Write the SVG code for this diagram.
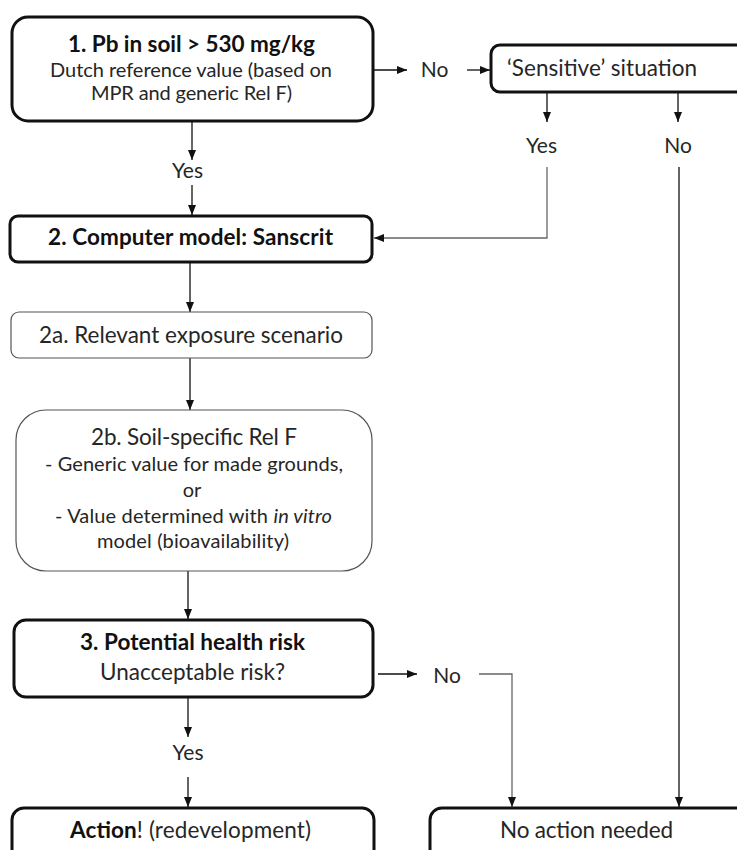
<svg xmlns="http://www.w3.org/2000/svg" width="737" height="850" viewBox="0 0 737 850">
<style>
text{font-family:Lato,"Open Sans","Liberation Sans",sans-serif;font-size:20px;fill:#262626;text-anchor:middle}
.b{font-weight:bold;fill:#111}
.L{font-size:22.5px}
.M{font-size:21px}
.thick{fill:#fff;stroke:#111;stroke-width:3}
.thin{fill:#fff;stroke:#555;stroke-width:1.2}
.c{fill:none;stroke:#111;stroke-width:1.3}
.g{stroke:#666}
</style>
<defs>
<marker id="ah" markerUnits="userSpaceOnUse" markerWidth="10" markerHeight="10" viewBox="0 0 10 10" refX="10" refY="5" orient="auto">
<path d="M0,1 L10,5 L0,9 Z" fill="#111"/>
</marker>
</defs>
<rect width="737" height="850" fill="#fff"/>
<g id="connectors">
<line class="c" x1="373" y1="70" x2="407" y2="70" marker-end="url(#ah)"/>
<line class="c" x1="467" y1="70" x2="490" y2="70" marker-end="url(#ah)"/>
<line class="c" x1="547" y1="93" x2="547" y2="122" marker-end="url(#ah)"/>
<line class="c" x1="678" y1="93" x2="678" y2="122" marker-end="url(#ah)"/>
<polyline class="c g" points="547,167 547,238 374,238" marker-end="url(#ah)"/>
<line class="c" x1="679" y1="167" x2="679" y2="807" marker-end="url(#ah)"/>
<line class="c" x1="192" y1="122" x2="192" y2="160" marker-end="url(#ah)"/>
<line class="c" x1="192" y1="185" x2="192" y2="215" marker-end="url(#ah)"/>
<line class="c" x1="190" y1="263" x2="190" y2="312" marker-end="url(#ah)"/>
<line class="c" x1="190" y1="358" x2="190" y2="410" marker-end="url(#ah)"/>
<line class="c" x1="188" y1="571" x2="188" y2="619" marker-end="url(#ah)"/>
<line class="c" x1="188" y1="698" x2="188" y2="737" marker-end="url(#ah)"/>
<line class="c" x1="188" y1="777" x2="188" y2="807" marker-end="url(#ah)"/>
<line class="c" x1="378" y1="674" x2="417" y2="674" marker-end="url(#ah)"/>
<polyline class="c g" points="479,674 512,674 512,807" marker-end="url(#ah)"/>
</g>
<g id="labels">
<text x="434.5" y="77" class="M">No</text>
<text x="541.5" y="153" class="M">Yes</text>
<text x="678" y="153" class="M">No</text>
<text x="187.5" y="178" class="M">Yes</text>
<text x="447" y="683" class="M">No</text>
<text x="188" y="760" class="M">Yes</text>
</g>
<g id="n1">
<rect class="thick" x="12" y="17" width="361" height="104" rx="16"/>
<text class="b L" x="191.5" y="52" textLength="247">1. Pb in soil &gt; 530 mg/kg</text>
<text x="191" y="77" textLength="282">Dutch reference value (based on</text>
<text x="191.5" y="100" textLength="201">MPR and generic Rel F)</text>
</g>
<g id="sensitive">
<rect class="thick" x="491" y="45" width="270" height="47" rx="9"/>
<text class="L" x="507" y="76" style="text-anchor:start" textLength="190">‘Sensitive’ situation</text>
</g>
<g id="n2">
<rect class="thick" x="10" y="216" width="362" height="46" rx="8"/>
<text class="b L" x="190.5" y="245" textLength="285">2. Computer model: Sanscrit</text>
</g>
<g id="n2a">
<rect class="thin" x="11" y="312" width="361" height="46" rx="8"/>
<text class="L" x="191" y="343" textLength="304">2a. Relevant exposure scenario</text>
</g>
<g id="n2b">
<rect class="thin" x="16" y="410" width="356" height="161" rx="30"/>
<text class="L" x="194" y="445" textLength="206">2b. Soil-specific Rel F</text>
<text x="194" y="471" textLength="298">- Generic value for made grounds,</text>
<text x="192" y="497">or</text>
<text x="193.5" y="523" textLength="277">- Value determined with <tspan font-style="italic">in vitro</tspan></text>
<text x="193" y="548" textLength="192">model (bioavailability)</text>
</g>
<g id="n3">
<rect class="thick" x="14" y="620" width="359" height="77" rx="12"/>
<text class="b L" x="192.5" y="650" textLength="225">3. Potential health risk</text>
<text class="L" x="192.5" y="680" textLength="185">Unacceptable risk?</text>
</g>
<g id="action">
<rect class="thick" x="12" y="808" width="362" height="60" rx="12"/>
<text class="L" x="190.5" y="838" textLength="241"><tspan font-weight="bold" fill="#111">Action</tspan>! (redevelopment)</text>
</g>
<g id="noaction">
<rect class="thick" x="430" y="808" width="330" height="60" rx="12"/>
<text class="L" x="586.5" y="838" textLength="173">No action needed</text>
</g>
</svg>
